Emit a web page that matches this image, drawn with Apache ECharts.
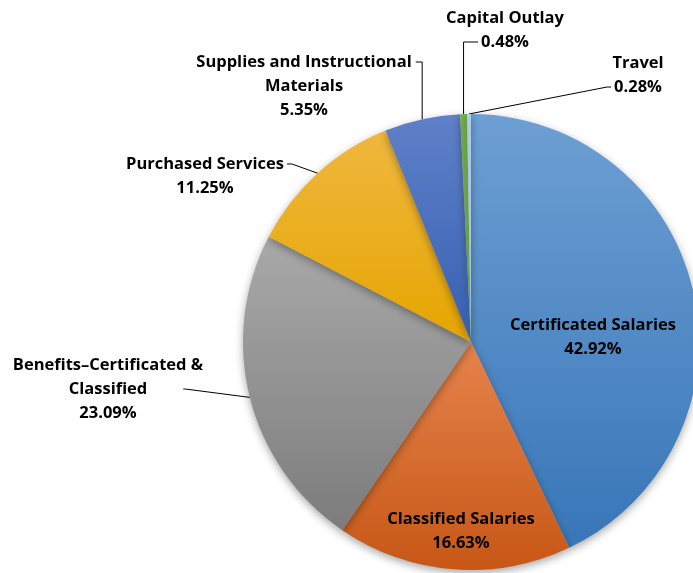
<!DOCTYPE html>
<html>
<head>
<meta charset="utf-8">
<script src="https://cdn.jsdelivr.net/npm/echarts@6/dist/echarts.min.js"></script>
<style>
  html, body { margin: 0; padding: 0; background: #fff; }
  #chart { width: 693px; height: 573px; }
</style>
</head>
<body>
<div id="chart"></div>
<script>
// Expenditure breakdown pie - shares of total, in percent
const categories = [
  'Certificated Salaries',
  'Classified Salaries',
  'Benefits\u2013Certificated &\nClassified',
  'Purchased Services',
  'Supplies and Instructional\nMaterials',
  'Capital Outlay',
  'Travel'
];
const shares = [42.92, 16.63, 23.09, 11.25, 5.35, 0.48, 0.28];

// top / bottom gradient stops per slice
const topColors = ['#6d9fd3', '#e5834c', '#a9a9a9', '#f0b73f', '#5f80c8', '#74b04b', '#adcbea'];
const bottomColors = ['#3876b8', '#c75716', '#7c7c7c', '#e5a500', '#3760b2', '#6aa843', '#9cbfe3'];

// where each label sits (center of the text block)
const labelSpots = [
  [593, 337], [461, 531], [108, 389], [205, 176], [304, 86], [505, 30], [638, 75]
];
const insideLabels = [0, 1];

const FONT_SIZE = 16.5;
const LINE_H = 24;
const FONT = 'bold ' + FONT_SIZE + 'px "Open Sans"';

const measureCtx = document.createElement('canvas').getContext('2d');
function textWidth(s) {
  measureCtx.font = FONT;
  return measureCtx.measureText(s).width;
}

// leader line shapes, Office style: elbow then short run into the text
function leaderPoints(idx, p0) {
  const spot = labelSpots[idx];
  const lines = (categories[idx] + '\n' + shares[idx] + '%').split('\n');
  const h = lines.length * LINE_H;
  const top = spot[1] - h / 2;
  const lineMid = (n) => top + LINE_H * n + LINE_H / 2;
  const lineLeft = (n) => spot[0] - textWidth(lines[n]) / 2;
  const lineRight = (n) => spot[0] + textWidth(lines[n]) / 2;
  let end, elbow;
  switch (idx) {
    case 5: // Capital Outlay: straight up, then right into the value
      end = [lineLeft(1) - 3, lineMid(1)];
      elbow = [p0[0], end[1]];
      break;
    case 6: // Travel: diagonal, then short run into the name block
      end = [lineLeft(1) - 3, lineMid(1)];
      elbow = [end[0] - 4, end[1]];
      break;
    case 4: // Supplies: straight up, then left to the first line
      end = [lineRight(0) + 4, lineMid(0)];
      elbow = [p0[0], end[1]];
      break;
    case 3: // Purchased Services
      end = [lineRight(0) + 3, lineMid(0)];
      elbow = [end[0] + 5, end[1]];
      break;
    case 2: // Benefits
      end = [lineRight(1) + 36, lineMid(1)];
      elbow = [end[0] + 2, end[1]];
      break;
    default:
      return null;
  }
  return [p0, elbow, end];
}

const chart = echarts.init(document.getElementById('chart'));

const option = {
  animation: false,
  series: [{
    type: 'pie',
    center: [471, 342],
    radius: 228,
    startAngle: 90,
    clockwise: true,
    avoidLabelOverlap: false,
    itemStyle: {
      borderWidth: 0,
      shadowColor: 'rgba(0, 0, 0, 0.35)',
      shadowBlur: 8,
      shadowOffsetY: 3
    },
    label: {
      show: true,
      formatter: '{b}\n{c}%',
      color: '#000',
      fontFamily: 'Open Sans',
      fontWeight: 'bold',
      fontSize: FONT_SIZE,
      lineHeight: LINE_H,
      align: 'center'
    },
    labelLine: {
      show: true,
      length: 20,
      length2: 10,
      lineStyle: { color: '#000', width: 1 }
    },
    labelLayout: (params) => {
      const spot = labelSpots[params.dataIndex];
      const out = {
        x: spot[0],
        y: spot[1],
        align: 'center',
        verticalAlign: 'middle'
      };
      if (params.labelLinePoints && params.labelLinePoints[0]) {
        const pts = leaderPoints(params.dataIndex, params.labelLinePoints[0]);
        if (pts) out.labelLinePoints = pts;
      }
      return out;
    },
    data: categories.map((name, i) => ({
      name: name,
      value: shares[i],
      label: { position: insideLabels.includes(i) ? 'inside' : 'outside' },
      labelLine: { show: !insideLabels.includes(i) },
      itemStyle: {
        color: new echarts.graphic.LinearGradient(0, 0, 0, 1, [
          { offset: 0, color: topColors[i] },
          { offset: 1, color: bottomColors[i] }
        ])
      }
    }))
  }]
};

chart.setOption(option);
</script>
</body>
</html>
